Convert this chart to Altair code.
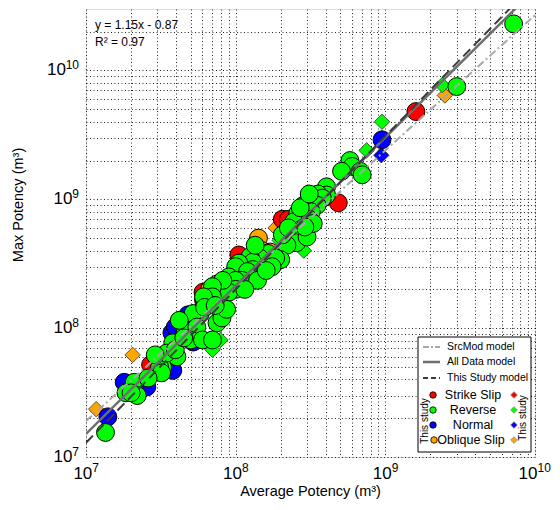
import altair as alt
import pandas as pd

FONT = "Liberation Sans"
W, H = 449, 448

# ---------------- data ----------------
# Strike slip (red circles)
ss_avg = [1.6e9, 4.85e8, 2.05e8, 2.25e8, 1.05e8, 1.02e8, 6.5e7, 6.1e7, 6.05e7, 2.8e7, 2.7e7]
ss_max = [4.8e9, 9.4e8, 7.0e8, 7.0e8, 3.7e8, 3.0e8, 1.6e8, 1.65e8, 1.9e8, 5.2e7, 5.2e7]
# Normal (blue circles)
nm_avg = [9.5e8, 1.4e7, 1.8e7, 2.55e7, 3.8e7, 3.75e7, 3.95e7, 4.8e7, 5.2e7]
nm_max = [2.9e9, 2.05e7, 3.8e7, 3.5e7, 4.7e7, 9.2e7, 1.02e8, 1.27e8, 7.8e7]
# Oblique slip (orange circles)
ob_avg = [1.42e8, 1.5e8, 7.0e7, 7.5e7, 6.7e7, 1.7e8]
ob_max = [5.0e8, 4.0e8, 2.05e8, 2.2e8, 2.0e8, 3.9e8]
# Reverse (green circles)
rv_avg = [7.2e9, 3.0e9, 5.8e8, 6.0e8, 5.1e8, 6.8e8, 7.0e8, 4.05e8, 4.05e8, 3.55e8,
          3.3e8, 3.8e8, 3.5e8, 2.85e8, 3.0e8, 3.2e8, 2.6e8, 2.7e8, 3.1e8, 2.45e8,
          2.7e8, 3.1e8, 2.7e8, 2.45e8, 2.55e8, 3.0e8, 3.3e8, 2.9e8, 2.2e8, 2.0e8,
          1.65e8, 1.45e8, 1.25e8, 1.85e8, 1.75e8, 1.3e8, 1.3e8, 1.05e8, 1.0e8, 1.2e8,
          9.0e7, 1.1e8, 1.4e8, 1.0e8, 8.2e7, 1.0e8, 9.0e7, 8.2e7, 7.0e7, 7.0e7,
          6.1e7, 5.8e7, 5.2e7, 6.2e7, 7.5e7, 8.1e7, 8.7e7, 4.6e7, 5.5e7, 5.0e7,
          6.0e7, 7.0e7, 3.8e7, 3.65e7, 4.05e7, 3.25e7, 3.1e7, 3.2e7, 3.45e7, 3.95e7,
          2.1e7, 1.85e7, 2.2e7, 2.0e7, 1.35e7, 1.35e8, 1.6e8, 2.05e8, 2.25e8, 1.15e8,
          7.3e7, 4.2e7, 2.9e7, 4.5e7, 2.6e7]
rv_max = [2.3e10, 7.5e9, 2.0e9, 1.8e9, 1.65e9, 1.65e9, 1.55e9, 1.25e9, 1.08e9, 1.1e9,
          1.02e9, 1.02e9, 9.0e8, 9.0e8, 8.2e8, 8.0e8, 7.8e8, 7.0e8, 7.0e8, 6.7e8,
          8.6e8, 1.1e9, 5.8e8, 5.1e8, 4.6e8, 5.1e8, 6.5e8, 6.1e8, 4.4e8, 3.4e8,
          3.8e8, 3.5e8, 3.6e8, 3.5e8, 3.0e8, 3.25e8, 2.85e8, 3.2e8, 3.0e8, 2.75e8,
          2.5e8, 2.35e8, 2.35e8, 2.35e8, 2.0e8, 2.0e8, 1.9e8, 2.35e8, 2.1e8, 1.75e8,
          1.75e8, 1.3e8, 1.3e8, 1.45e8, 1.1e8, 1.2e8, 1.4e8, 9.3e7, 1.02e8, 8.1e7,
          8.1e7, 8.1e7, 7.7e7, 6.4e7, 6.0e7, 5.0e7, 5.0e7, 4.5e7, 6.4e7, 6.8e7,
          3.8e7, 3.15e7, 3.0e7, 3.15e7, 1.55e7, 4.4e8, 2.8e8, 5.3e8, 6.0e8, 2.0e8,
          1.5e8, 1.15e8, 6.2e7, 8.4e7, 4.1e7]
# This study (diamonds)
ts_ob_avg = [1.17e7, 2.05e7, 2.5e9, 1.85e8]
ts_ob_max = [2.35e7, 6.2e7, 6.4e9, 6.0e8]
ts_rv_avg = [2.4e9, 9.5e8, 7.5e8, 2.85e8, 1.97e8, 7.0e7, 7.9e7]
ts_rv_max = [7.7e9, 4.0e9, 2.4e9, 4.0e8, 4.8e8, 6.8e7, 8.1e7]
ts_nm_avg = [9.4e8]
ts_nm_max = [2.2e9]

# Model lines (end points)
line_x = [1e7, 1e10]
srcmod_y = [1.9e7, 2.69e10]
alldata_y = [1.51e7, 4.27e10]
thisstudy_y = [1.29e7, 4.79e10]

categories = ["Strike Slip", "Reverse", "Normal", "Oblique Slip"]
cat_colors = ["#ff0000", "#00ff00", "#0000ff", "#ffa500"]

x_label_vals = [1e7, 1e8, 1e9]
x_label_exp = ["7", "8", "9"]
y_label_vals = [1e7, 1e8, 1e9]
y_label_exp = ["7", "8", "9"]

# ---------------- scales / axes ----------------
xs = alt.Scale(type="log", domain=[1e7, 1e10], nice=False)
ys = alt.Scale(type="log", domain=[1e7, 3e10], nice=False)
x_grid = [k * 10 ** e for e in (7, 8, 9) for k in range(1, 10)] + [1e10]
y_grid = x_grid + [2e10]
GRID = dict(grid=True, labels=False, ticks=False, domain=False, title=None,
            gridColor="#000000", gridDash=[1, 2.5], gridOpacity=0.85, gridWidth=1)
xaxis = alt.Axis(values=x_grid, **GRID)
yaxis = alt.Axis(values=y_grid, **GRID)
X = alt.X("avg:Q", scale=xs, axis=xaxis)
Y = alt.Y("mx:Q", scale=ys, axis=yaxis)
color = alt.Color("cat:N", scale=alt.Scale(domain=categories, range=cat_colors), legend=None)


def frame(a, m, c):
    return pd.DataFrame({"avg": a, "mx": m, "cat": c})


diam_df = pd.concat([frame(ts_ob_avg, ts_ob_max, "Oblique Slip"),
                     frame(ts_rv_avg, ts_rv_max, "Reverse"),
                     frame(ts_nm_avg, ts_nm_max, "Normal")], ignore_index=True)
circ_df = pd.concat([frame(nm_avg, nm_max, "Normal"),
                     frame(ss_avg, ss_max, "Strike Slip"),
                     frame(ob_avg, ob_max, "Oblique Slip"),
                     frame(rv_avg, rv_max, "Reverse")], ignore_index=True)

diamonds = alt.Chart(diam_df).mark_point(shape="diamond", filled=True, size=240, opacity=1,
                                         stroke="#333333", strokeWidth=0.8).encode(x=X, y=Y, color=color)
circles = alt.Chart(circ_df).mark_circle(size=320, opacity=1, stroke="black",
                                         strokeWidth=1).encode(x=X, y=Y, color=color)


def model_line(yvals, col, width, dash=None):
    df = pd.DataFrame({"avg": line_x, "mx": yvals})
    kw = dict(clip=True, color=col, strokeWidth=width)
    if dash:
        kw["strokeDash"] = dash
    return alt.Chart(df).mark_line(**kw).encode(x=X, y=Y)


l_src = model_line(srcmod_y, "#a8a8a8", 2, [8, 3, 2, 3])
l_all = model_line(alldata_y, "#6e6e6e", 2.5)
l_ts = model_line(thisstudy_y, "#3a3a3a", 2, [10, 5])

one = pd.DataFrame({"a": [0]})


def txt(t, x, y, size, align="left", angle=0, font=FONT):
    kw = dict(text=t, fontSize=size, align=align, baseline="middle", font=font, color="black")
    if angle:
        kw["angle"] = angle
    return alt.Chart(one).mark_text(**kw).encode(x=alt.value(x), y=alt.value(y))


# tick labels
xl_df = pd.DataFrame({"avg": x_label_vals, "e": x_label_exp})
xl10_df = pd.DataFrame({"avg": [1e10], "e": ["10"]})
yl_df = pd.DataFrame({"mx": y_label_vals, "e": y_label_exp})
yl10_df = pd.DataFrame({"mx": [1e10], "e": ["10"]})

BS, ES = 17, 12
xb1 = alt.Chart(xl_df).mark_text(text="10", align="right", baseline="middle", dx=6.3,
                                 fontSize=BS, font=FONT).encode(x=X, y=alt.value(465))
xe1 = alt.Chart(xl_df).mark_text(align="left", baseline="middle", dx=6.3,
                                 fontSize=ES, font=FONT).encode(x=X, y=alt.value(459), text="e:N")
xb2 = alt.Chart(xl10_df).mark_text(text="10", align="right", baseline="middle", dx=2.5,
                                   fontSize=BS, font=FONT).encode(x=X, y=alt.value(465))
xe2 = alt.Chart(xl10_df).mark_text(align="left", baseline="middle", dx=2.5,
                                   fontSize=ES, font=FONT).encode(x=X, y=alt.value(459), text="e:N")
yb1 = alt.Chart(yl_df).mark_text(text="10", align="right", baseline="middle",
                                 fontSize=BS, font=FONT).encode(y=Y, x=alt.value(-13.5))
ye1 = alt.Chart(yl_df).mark_text(align="right", baseline="middle", dy=-5,
                                 fontSize=ES, font=FONT).encode(y=Y, x=alt.value(-7), text="e:N")
yb2 = alt.Chart(yl10_df).mark_text(text="10", align="right", baseline="middle",
                                   fontSize=BS, font=FONT).encode(y=Y, x=alt.value(-20))
ye2 = alt.Chart(yl10_df).mark_text(align="right", baseline="middle", dy=-5,
                                   fontSize=ES, font=FONT).encode(y=Y, x=alt.value(-7), text="e:N")

# axis titles
xtitle = txt("Average Potency (m³)", W / 2, 483, 14.5, align="center")
ytitle = txt("Max Potency (m³)", -67, 196, 14.5, align="center", angle=270)

# equation
eq1 = txt("y = 1.15x - 0.87", 9, 16, 12)
eq2 = txt("R² = 0.97", 9, 33, 12)

# legend
box = alt.Chart(one).mark_rect(fill="white", stroke="black", strokeWidth=1).encode(
    x=alt.value(332), x2=alt.value(445), y=alt.value(328), y2=alt.value(443))


def sample(y, col, width, dash=None):
    kw = dict(color=col, strokeWidth=width)
    if dash:
        kw["strokeDash"] = dash
    return alt.Chart(one).mark_rule(**kw).encode(x=alt.value(337), x2=alt.value(354), y=alt.value(y))


leg = [box,
       sample(338, "#a8a8a8", 2, [6, 2, 2, 2]), txt("SrcMod model", 361, 338, 10.5),
       sample(353, "#6e6e6e", 2.5), txt("All Data model", 361, 353, 10.5),
       sample(369, "#3a3a3a", 2, [5, 3]), txt("This Study model", 361, 369, 10.5)]
row_y = [386, 401, 416, 431]
circ_x = [347, 347, 347, 348]
text_x = [387, 387, 387, 385]
for name, col, ry, cx, tx in zip(categories, cat_colors, row_y, circ_x, text_x):
    leg.append(alt.Chart(one).mark_point(shape="circle", filled=True, size=42, fill=col, opacity=1,
                                         stroke="black", strokeWidth=0.8).encode(
        x=alt.value(cx), y=alt.value(ry)))
    leg.append(txt(name, tx, ry, 12.5, align="center"))
    leg.append(alt.Chart(one).mark_point(shape="diamond", filled=True, size=45, fill=col, opacity=1,
                                         stroke="#888888", strokeWidth=0.8).encode(
        x=alt.value(428), y=alt.value(ry)))
leg.append(txt("This study", 339, 412, 10, align="center", angle=270))
leg.append(txt("This study", 437, 409, 10, align="center", angle=270))

chart = alt.layer(
    diamonds, circles, l_src, l_all, l_ts,
    xb1, xe1, xb2, xe2, yb1, ye1, yb2, ye2, xtitle, ytitle, eq1, eq2, *leg
).properties(
    width=W, height=H, autosize="none",
    padding={"left": 78, "top": 1, "right": 16, "bottom": 45}
).configure_view(stroke="black", strokeWidth=1.5).configure(font=FONT)

chart.save("out.html", embed_options={"renderer": "svg", "actions": False})
